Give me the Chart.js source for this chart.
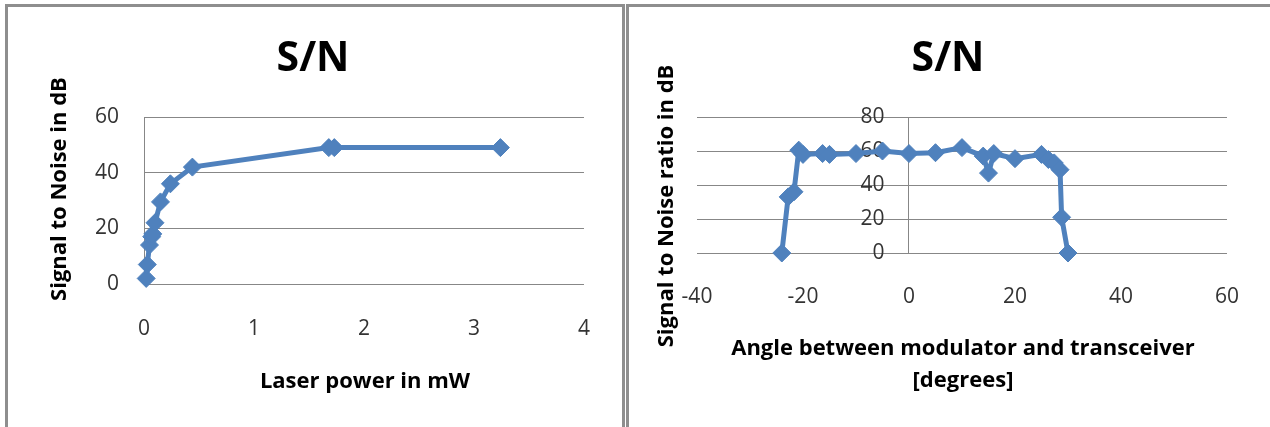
<!DOCTYPE html>
<html>
<head>
<meta charset="utf-8">
<script src="https://cdn.jsdelivr.net/npm/chart.js@4"></script>
<style>
  html, body { margin: 0; padding: 0; background: #fff; }
  body { width: 1270px; height: 427px; position: relative; overflow: hidden; }
  .wrap { position: absolute; top: 0; height: 427px; }
  #wrapA { left: 0; width: 622px; }
  #wrapB { left: 627px; width: 643px; }
  .frame { position: absolute; box-sizing: border-box; border: 3px solid #8e8e8e; border-bottom: none; pointer-events: none; }
  #frameA { left: 5px; top: 4px; width: 620px; height: 423px; }
  #frameB { left: 626px; top: 4px; width: 660px; height: 423px; border-right: none; }
</style>
</head>
<body>
<div class="wrap" id="wrapA"><canvas id="chartA" width="622" height="427"></canvas></div>
<div class="wrap" id="wrapB"><canvas id="chartB" width="643" height="427"></canvas></div>
<div class="frame" id="frameA"></div>
<div class="frame" id="frameB"></div>
<script>
// S/N versus laser power
const powerMw    = [0.02, 0.03, 0.05, 0.07, 0.08, 0.10, 0.15, 0.24, 0.44, 1.68, 1.73, 3.24];
const snrPowerDb = [2, 7, 14, 17, 18, 22, 29.5, 36, 42, 49, 49, 49];
const powerTicks = [0, 1, 2, 3, 4];
const snrPowerTicks = [0, 20, 40, 60];

// S/N versus angle between modulator and transceiver
const angleDeg   = [-24, -22.8, -21.7, -20.8, -20, -16.3, -15, -10, -5, 0, 5, 10, 14, 15, 16, 20, 25, 26.3, 27.4, 28.5, 28.8, 30];
const snrAngleDb = [0, 33, 36, 60.5, 58, 58.5, 58, 58.5, 60, 58.5, 59, 62, 57, 47, 58.5, 55.5, 58, 55, 53, 49, 21, 0];
const angleTicks = [-40, -20, 0, 20, 40, 60];
const snrAngleTicks = [0, 20, 40, 60, 80];

const titleText = 'S/N';
const powerYTitle = 'Signal to Noise in dB';
const powerXTitle = 'Laser power in mW';
const angleYTitle = 'Signal to Noise ratio in dB';
const angleXTitle = ['Angle between modulator and transceiver', '[degrees]'];

const BLUE = '#4F81BD';
const GRID = '#878787';
const TICK_COLOR = '#333333';
const FAMILY = "'Open Sans', 'DejaVu Sans', sans-serif";
const tickFont = { family: FAMILY, size: 21 };
const axisTitleFont = `bold 22px ${FAMILY}`;

// free-standing captions (chart title and axis titles) drawn on the canvas
const captionPlugin = {
  id: 'captions',
  afterDraw(chart, args, opts) {
    const ctx = chart.ctx;
    (opts.items || []).forEach(it => {
      ctx.save();
      ctx.font = it.font;
      ctx.fillStyle = it.color || '#000';
      ctx.textAlign = 'center';
      ctx.textBaseline = 'middle';
      ctx.translate(it.x, it.y);
      if (it.rotate) ctx.rotate(it.rotate);
      ctx.fillText(it.text, 0, 0);
      ctx.restore();
    });
  }
};

function lineDataset(xs, ys) {
  return {
    data: xs.map((x, i) => ({ x: x, y: ys[i] })),
    showLine: true,
    borderColor: BLUE,
    backgroundColor: BLUE,
    borderWidth: 5,
    tension: 0,
    pointStyle: 'rectRot',
    pointRadius: 9,
    pointBorderWidth: 1,
    pointBackgroundColor: BLUE,
    pointBorderColor: BLUE,
    clip: false
  };
}

const stepOf = t => t[1] - t[0];

new Chart(document.getElementById('chartA'), {
  type: 'scatter',
  data: { datasets: [lineDataset(powerMw, snrPowerDb)] },
  options: {
    responsive: false,
    animation: false,
    devicePixelRatio: 1,
    layout: { padding: { left: 0, top: 117, right: 34, bottom: 0 } },
    plugins: {
      legend: { display: false },
      tooltip: { enabled: false },
      captions: {
        items: [
          { text: titleText, x: 313, y: 59, font: `bold 41px ${FAMILY}` },
          { text: powerYTitle, x: 60, y: 189, rotate: -Math.PI / 2, font: axisTitleFont },
          { text: powerXTitle, x: 365, y: 382, font: axisTitleFont }
        ]
      }
    },
    scales: {
      x: {
        type: 'linear',
        min: powerTicks[0], max: powerTicks[powerTicks.length - 1],
        ticks: { stepSize: stepOf(powerTicks), padding: 32, color: TICK_COLOR, font: tickFont },
        grid: { display: false, drawTicks: false },
        border: { display: false },
        afterFit: s => { s.height = 143; }
      },
      y: {
        min: snrPowerTicks[0], max: snrPowerTicks[snrPowerTicks.length - 1],
        ticks: { stepSize: stepOf(snrPowerTicks), padding: 25, color: TICK_COLOR, font: tickFont },
        grid: { color: GRID, lineWidth: 1, drawTicks: false },
        border: { display: true, color: GRID, width: 1 },
        afterFit: s => { s.width = 144; }
      }
    }
  },
  plugins: [captionPlugin]
});

new Chart(document.getElementById('chartB'), {
  type: 'scatter',
  data: { datasets: [Object.assign(lineDataset(angleDeg, snrAngleDb), { yAxisID: 'y' })] },
  options: {
    responsive: false,
    animation: false,
    devicePixelRatio: 1,
    layout: { padding: { left: 70, top: 117, right: 40, bottom: 0 } },
    plugins: {
      legend: { display: false },
      tooltip: { enabled: false },
      captions: {
        items: [
          { text: titleText, x: 321, y: 59, font: `bold 41px ${FAMILY}` },
          { text: angleYTitle, x: 40, y: 206, rotate: -Math.PI / 2, font: axisTitleFont },
          { text: angleXTitle[0], x: 336, y: 349, font: axisTitleFont },
          { text: angleXTitle[1], x: 336, y: 381, font: axisTitleFont }
        ]
      }
    },
    scales: {
      x: {
        type: 'linear',
        min: angleTicks[0], max: angleTicks[angleTicks.length - 1],
        ticks: { stepSize: stepOf(angleTicks), padding: 31, color: TICK_COLOR, font: tickFont },
        grid: { display: false, drawTicks: false },
        border: { display: false },
        afterFit: s => { s.height = 174; }
      },
      // value axis crossing the horizontal axis at 0: gridlines and axis line
      y: {
        position: { x: 0 },
        min: snrAngleTicks[0], max: snrAngleTicks[snrAngleTicks.length - 1],
        ticks: { stepSize: stepOf(snrAngleTicks), display: false },
        grid: { color: GRID, lineWidth: 1, drawTicks: false },
        border: { display: true, color: GRID, width: 1 }
      },
      // its tick labels, set a little left of the axis line and painted above the series
      yLabels: {
        axis: 'y',
        position: { x: -4.6 },
        z: 1,
        min: snrAngleTicks[0], max: snrAngleTicks[snrAngleTicks.length - 1],
        ticks: { stepSize: stepOf(snrAngleTicks), color: TICK_COLOR, font: tickFont },
        grid: { display: false, drawTicks: false },
        border: { display: false }
      }
    }
  },
  plugins: [captionPlugin]
});
</script>
</body>
</html>
